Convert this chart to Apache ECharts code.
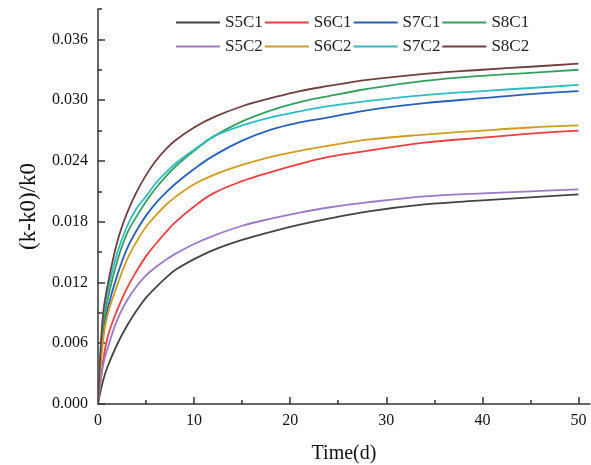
<!DOCTYPE html>
<html>
<head>
<meta charset="utf-8">
<script src="https://cdn.jsdelivr.net/npm/echarts@6/dist/echarts.min.js"></script>
<style>html,body{margin:0;padding:0;background:#fff;}#c{width:591px;height:465px;}</style>
</head>
<body>
<div id="c"></div>
<script>
const times = [0, 0.5, 1, 2, 3, 4, 5, 6, 7, 8, 10, 12, 15, 18, 21, 24, 28, 34, 40, 45, 50];
const S5C1 = [0, 0.0022, 0.0037, 0.0059, 0.0077, 0.0092, 0.0105, 0.0115, 0.0124, 0.0132, 0.0143, 0.0152, 0.0162, 0.0170, 0.0177, 0.0183, 0.0190, 0.0197, 0.0201, 0.0204, 0.0207];
const S6C1 = [0, 0.0040, 0.0066, 0.0093, 0.0114, 0.0131, 0.0146, 0.0158, 0.0169, 0.0179, 0.0195, 0.0208, 0.0220, 0.0229, 0.0237, 0.0244, 0.0250, 0.0258, 0.0263, 0.0267, 0.0270];
const S7C1 = [0, 0.0070, 0.0094, 0.0127, 0.0153, 0.0171, 0.0186, 0.0198, 0.0208, 0.0217, 0.0232, 0.0245, 0.0260, 0.0271, 0.0278, 0.0283, 0.0290, 0.0297, 0.0302, 0.0306, 0.0309];
const S8C1 = [0, 0.0073, 0.0103, 0.0141, 0.0168, 0.0185, 0.0200, 0.0213, 0.0224, 0.0234, 0.0250, 0.0264, 0.0279, 0.0290, 0.0298, 0.0304, 0.0311, 0.0319, 0.0324, 0.0327, 0.0330];
const S5C2 = [0, 0.0037, 0.0055, 0.0083, 0.0102, 0.0116, 0.0127, 0.0135, 0.0142, 0.0148, 0.0158, 0.0166, 0.0176, 0.0183, 0.0189, 0.0194, 0.0199, 0.0205, 0.0208, 0.0210, 0.0212];
const S6C2 = [0, 0.0060, 0.0088, 0.0117, 0.0142, 0.0160, 0.0175, 0.0186, 0.0196, 0.0204, 0.0217, 0.0226, 0.0236, 0.0244, 0.0250, 0.0255, 0.0261, 0.0266, 0.0270, 0.0273, 0.0275];
const S7C2 = [0, 0.0083, 0.0111, 0.0149, 0.0175, 0.0193, 0.0205, 0.0218, 0.0228, 0.0237, 0.0251, 0.0264, 0.0275, 0.0283, 0.0289, 0.0294, 0.0299, 0.0305, 0.0309, 0.0312, 0.0315];
const S8C2 = [0, 0.0086, 0.0117, 0.0160, 0.0188, 0.0209, 0.0226, 0.0240, 0.0251, 0.0260, 0.0273, 0.0283, 0.0294, 0.0302, 0.0309, 0.0314, 0.0320, 0.0326, 0.0330, 0.0333, 0.0336];

const xMajorTicks = [0, 10, 20, 30, 40, 50];
const xMinorTicks = [5, 15, 25, 35, 45];
const yMajorTicks = [0, 0.006, 0.012, 0.018, 0.024, 0.030, 0.036];
const yMinorTicks = [0.003, 0.009, 0.015, 0.021, 0.027, 0.033, 0.039];

const seriesNames = ['S5C1', 'S6C1', 'S7C1', 'S8C1', 'S5C2', 'S6C2', 'S7C2', 'S8C2'];
const seriesValues = [S5C1, S6C1, S7C1, S8C1, S5C2, S6C2, S7C2, S8C2];
const seriesColors = ['#444444', '#ef3e3e', '#2660bb', '#33a060', '#9d78c8', '#d19c1d', '#2dbcc2', '#704040'];

const FONT = '"Liberation Serif", "Times New Roman", serif';
const AXIS_COLOR = '#333';

const chart = echarts.init(document.getElementById('c'), null, {renderer: 'canvas'});

const series = seriesNames.map((name, i) => ({
  name: name,
  type: 'line',
  xAxisIndex: 0,
  yAxisIndex: 0,
  data: times.map((t, k) => [t, seriesValues[i][k]]),
  smooth: 0.4,
  symbol: 'none',
  showSymbol: false,
  lineStyle: {width: 1.8, color: seriesColors[i]},
  itemStyle: {color: seriesColors[i]},
  animation: false
}));

const legendCommon = {
  orient: 'horizontal',
  icon: 'rect',
  itemWidth: 44,
  itemHeight: 2,
  itemGap: 2,
  padding: 0,
  textStyle: {fontFamily: FONT, fontSize: 17, color: '#222'},
  selectedMode: false
};

chart.setOption({
  backgroundColor: '#fff',
  animation: false,
  grid: {left: 98, right: 1, top: 9, bottom: 61, containLabel: false, outerBoundsMode: 'none'},
  legend: [
    Object.assign({}, legendCommon, {left: 176, top: 14, data: seriesNames.slice(0, 4)}),
    Object.assign({}, legendCommon, {left: 176, top: 38, data: seriesNames.slice(4, 8)})
  ],
  xAxis: [
    {
      type: 'value', position: 'bottom', min: 0, max: 51.2,
      name: 'Time(d)', nameLocation: 'middle', nameGap: 40,
      nameTextStyle: {fontFamily: FONT, fontSize: 20, color: '#111'},
      axisLine: {show: true, onZero: false, lineStyle: {color: AXIS_COLOR, width: 1.5}},
      axisTick: {show: true, inside: true, length: 7, customValues: xMajorTicks, lineStyle: {color: AXIS_COLOR, width: 1.5}},
      axisLabel: {show: true, customValues: xMajorTicks, margin: 9, fontFamily: FONT, fontSize: 16, color: '#111'},
      splitLine: {show: false}
    },
    {
      type: 'value', position: 'bottom', min: 0, max: 51.2,
      axisLine: {show: false, onZero: false},
      axisTick: {show: true, inside: true, length: 4, customValues: xMinorTicks, lineStyle: {color: AXIS_COLOR, width: 1.5}},
      axisLabel: {show: false},
      splitLine: {show: false}
    }
  ],
  yAxis: [
    {
      type: 'value', position: 'left', min: 0, max: 0.039,
      name: '(k-k0)/k0', nameLocation: 'middle', nameGap: 58, nameRotate: 90,
      nameTextStyle: {fontFamily: FONT, fontSize: 23, color: '#111'},
      axisLine: {show: true, onZero: false, lineStyle: {color: AXIS_COLOR, width: 1.5}},
      axisTick: {show: true, inside: true, length: 7, customValues: yMajorTicks, lineStyle: {color: AXIS_COLOR, width: 1.5}},
      axisLabel: {show: true, customValues: yMajorTicks, margin: 10, fontFamily: FONT, fontSize: 16, color: '#111',
        formatter: v => v.toFixed(3)},
      splitLine: {show: false}
    },
    {
      type: 'value', position: 'left', min: 0, max: 0.039,
      axisLine: {show: false, onZero: false},
      axisTick: {show: true, inside: true, length: 4, customValues: yMinorTicks, lineStyle: {color: AXIS_COLOR, width: 1.5}},
      axisLabel: {show: false},
      splitLine: {show: false}
    }
  ],
  series: series
});
</script>
</body>
</html>
